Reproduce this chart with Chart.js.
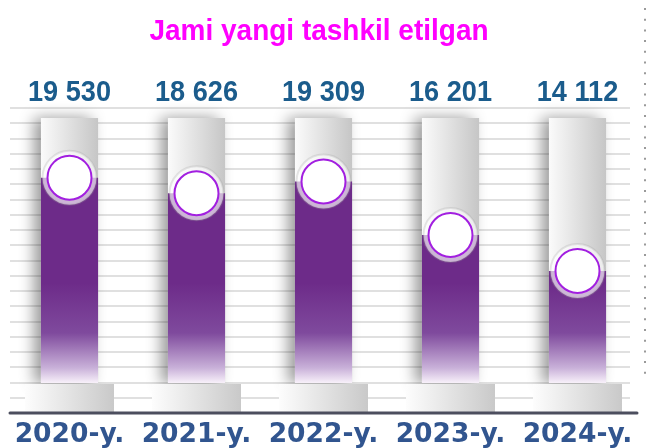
<!DOCTYPE html>
<html>
<head>
<meta charset="utf-8">
<script src="https://cdn.jsdelivr.net/npm/chart.js@4"></script>
<style>
  html, body { margin: 0; padding: 0; background: #fff; }
  #wrap { width: 651px; height: 448px; }
</style>
</head>
<body>
<div id="wrap"><canvas id="chart"></canvas></div>
<script>
const categories = ['2020-y.', '2021-y.', '2022-y.', '2023-y.', '2024-y.'];
const values = [19530, 18626, 19309, 16201, 14112];
const chartTitle = 'Jami yangi tashkil etilgan';
const yMin = 7600;
const yMax = 23000;

const SANS = "'Liberation Sans', Arial, sans-serif";

function formatValue(v) {
  return String(v).replace(/\B(?=(\d{3})+(?!\d))/g, ' ');
}

function purpleFill(context) {
  const area = context.chart.chartArea;
  if (!area) return '#6d2b89';
  const g = context.chart.ctx.createLinearGradient(0, area.bottom - 100, 0, area.bottom);
  g.addColorStop(0, '#6d2b89');
  g.addColorStop(0.5, '#7f4a9d');
  g.addColorStop(0.85, '#c9b1d9');
  g.addColorStop(1, '#f8f1fa');
  return g;
}

// draw text squeezed horizontally, like a narrow face
function squeezedText(ctx, text, x, y, scaleX) {
  ctx.save();
  ctx.translate(x, y);
  ctx.scale(scaleX, 1);
  ctx.fillText(text, 0, 0);
  ctx.restore();
}

// gridlines, tracks, pedestals and the base line behind the bars
const backdrop = {
  id: 'backdrop',
  beforeDatasetsDraw(chart) {
    const ctx = chart.ctx;
    const area = chart.chartArea;
    ctx.save();

    // light horizontal rules
    ctx.strokeStyle = '#e0e0e0';
    ctx.lineWidth = 2;
    for (let y = 108; y < 400; y += 15.25) {
      ctx.beginPath();
      ctx.moveTo(10, Math.round(y));
      ctx.lineTo(630, Math.round(y));
      ctx.stroke();
    }

    // dotted line on the right
    ctx.strokeStyle = '#9a9a9a';
    ctx.setLineDash([2, 8.7]);
    ctx.beginPath();
    ctx.moveTo(645, 8);
    ctx.lineTo(645, 378);
    ctx.stroke();
    ctx.setLineDash([]);

    const meta = chart.getDatasetMeta(0);
    meta.data.forEach(bar => {
      const left = bar.x - bar.width / 2;
      // track
      const g = ctx.createLinearGradient(left, 0, left + bar.width, 0);
      g.addColorStop(0, '#fbfbfb');
      g.addColorStop(1, '#c6c6c6');
      ctx.save();
      ctx.shadowColor = 'rgba(0,0,0,0.4)';
      ctx.shadowBlur = 14;
      ctx.shadowOffsetX = -7;
      ctx.fillStyle = g;
      ctx.fillRect(left, area.top, bar.width, area.bottom - area.top);
      ctx.restore();

      // pedestal
      const pw = 89;
      const pl = bar.x - pw / 2;
      const pg = ctx.createLinearGradient(pl, 0, pl + pw, 0);
      pg.addColorStop(0, '#fdfdfd');
      pg.addColorStop(1, '#c9c9c9');
      ctx.fillStyle = pg;
      ctx.fillRect(pl, area.bottom + 1, pw, 28);
    });

    // base line
    ctx.strokeStyle = '#4c4e5e';
    ctx.lineWidth = 3;
    ctx.lineCap = 'round';
    ctx.beginPath();
    ctx.moveTo(10, 413);
    ctx.lineTo(637, 413);
    ctx.stroke();
    ctx.restore();
  },
  afterDraw(chart) {
    const ctx = chart.ctx;
    const xs = chart.scales.x;
    ctx.save();
    ctx.textAlign = 'center';
    ctx.textBaseline = 'alphabetic';

    ctx.font = 'bold 30px ' + SANS;
    ctx.fillStyle = '#ff00ff';
    squeezedText(ctx, chartTitle, 319, 39.5, 0.933);

    ctx.font = 'bold 29px ' + SANS;
    ctx.fillStyle = '#1b5c8c';
    values.forEach((v, i) => {
      squeezedText(ctx, formatValue(v), xs.getPixelForValue(i), 100.7, 0.936);
    });
    ctx.restore();
  }
};

new Chart(document.getElementById('chart'), {
  type: 'bar',
  data: {
    labels: categories,
    datasets: [
      {
        label: 'Jami',
        data: values,
        backgroundColor: purpleFill,
        borderWidth: 0,
        barPercentage: 0.45,
        categoryPercentage: 1,
        order: 3
      },
      {
        type: 'line',
        label: 'halo',
        data: values,
        showLine: false,
        pointRadius: 27,
        pointBackgroundColor: 'rgba(255,255,255,0.66)',
        pointBorderColor: 'rgba(160,160,160,0.25)',
        pointBorderWidth: 2,
        order: 2
      },
      {
        type: 'line',
        label: 'marker',
        data: values,
        showLine: false,
        pointRadius: 22,
        pointBackgroundColor: '#ffffff',
        pointBorderColor: '#a21fe0',
        pointBorderWidth: 2,
        order: 1
      }
    ]
  },
  options: {
    responsive: true,
    maintainAspectRatio: false,
    animation: false,
    layout: { autoPadding: false, padding: { top: 118, left: 6, right: 10, bottom: 0 } },
    plugins: {
      legend: { display: false },
      tooltip: { enabled: false }
    },
    scales: {
      x: {
        grid: { display: false, drawTicks: false },
        border: { display: false },
        afterFit(scale) {
          scale.height = 65;
          scale.paddingLeft = 0;
          scale.paddingRight = 0;
        },
        ticks: {
          color: '#31558f',
          padding: 39,
          font: { family: "'DejaVu Sans', Verdana, sans-serif", size: 26.5, weight: 'bold', lineHeight: 1 }
        }
      },
      y: {
        display: false,
        min: yMin,
        max: yMax
      }
    }
  },
  plugins: [backdrop]
});
</script>
</body>
</html>
